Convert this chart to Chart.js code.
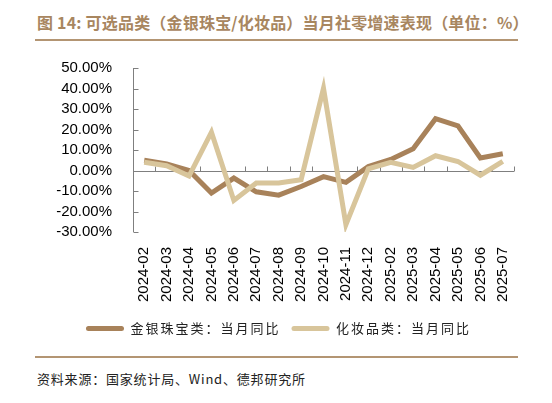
<!DOCTYPE html>
<html>
<head>
<meta charset="utf-8">
<script src="https://cdn.jsdelivr.net/npm/chart.js@4"></script>
<style>
  html, body { margin: 0; padding: 0; background: #fff; }
  body { width: 552px; height: 403px; position: relative; overflow: hidden; }
  #title { position: absolute; left: 37px; top: 10px; font: bold 16px "Noto Sans CJK SC", sans-serif; color: #A8865F; white-space: nowrap; letter-spacing: 0.2px; }
  .rule { position: absolute; left: 35px; width: 483px; height: 2px; background: #B39573; }
  #source { position: absolute; left: 37px; top: 369px; font: 13px "Noto Sans CJK SC", sans-serif; letter-spacing: 0.8px; color: #222; white-space: nowrap; }
  #wrap { position: absolute; left: 0; top: 0; width: 552px; height: 403px; }
</style>
</head>
<body>
<div id="title">图 14: 可选品类（金银珠宝/化妆品）当月社零增速表现（单位：%）</div>
<div class="rule" style="top:39px"></div>
<div class="rule" style="top:356px"></div>
<div id="source">资料来源：国家统计局、Wind、德邦研究所</div>
<div id="wrap"><canvas id="c" width="552" height="403"></canvas></div>
<script>
const categories = ["2024-02","2024-03","2024-04","2024-05","2024-06","2024-07","2024-08","2024-09","2024-10","2024-11","2024-12","2025-02","2025-03","2025-04","2025-05","2025-06","2025-07"];
const goldSilver = [5.0, 3.2, 0.0, -11.0, -3.7, -10.4, -12.0, -7.8, -3.0, -5.8, 1.9, 5.4, 10.6, 25.3, 21.8, 6.1, 8.2];
const cosmetics = [4.0, 2.3, -2.7, 18.7, -14.6, -6.1, -6.1, -4.5, 40.1, -26.4, 0.8, 4.0, 1.5, 7.2, 4.4, -2.3, 4.5];
const yMin = -30, yMax = 50, yStep = 10;
const goldLabel = "金银珠宝类：当月同比";
const cosmLabel = "化妆品类：当月同比";

const axisPlugin = {
  id: 'axisPlugin',
  beforeInit(chart) {
    const lg = chart.legend;
    if (!lg) return;
    const wrap = fn => function (...a) {
      const c = this.ctx;
      const prev = c.letterSpacing;
      c.letterSpacing = '2px';
      const r = fn.apply(this, a);
      c.letterSpacing = prev || '0px';
      return r;
    };
    lg.fit = wrap(Object.getPrototypeOf(lg).fit);
    lg.draw = wrap(Object.getPrototypeOf(lg).draw);
  },
  beforeDatasetsDraw(chart) {
    const {ctx, chartArea, scales: {x, y}} = chart;
    ctx.save();
    ctx.strokeStyle = '#7f7f7f';
    ctx.lineWidth = 1;
    const lx = Math.round(chartArea.left) + 0.5;
    ctx.beginPath();
    ctx.moveTo(lx, y.getPixelForValue(yMax));
    ctx.lineTo(lx, y.getPixelForValue(yMin));
    y.ticks.forEach(t => {
      const py = Math.round(y.getPixelForValue(t.value)) + 0.5;
      ctx.moveTo(lx, py);
      ctx.lineTo(lx + 5, py);
    });
    const y0 = Math.round(y.getPixelForValue(0)) + 0.5;
    ctx.moveTo(chartArea.left, y0);
    ctx.lineTo(chartArea.right, y0);
    for (let i = 1; i <= categories.length; i++) {
      const px = Math.round(x.getPixelForValue(i - 0.5)) + 0.5;
      ctx.moveTo(px, y0);
      ctx.lineTo(px, y0 - 5);
    }
    ctx.stroke();
    ctx.restore();
  }
};

new Chart(document.getElementById('c'), {
  type: 'line',
  data: {
    labels: categories,
    datasets: [
      { label: cosmLabel, data: cosmetics, borderColor: '#D8C59B', backgroundColor: '#D8C59B', borderWidth: 5, pointRadius: 0, tension: 0, borderJoinStyle: 'miter', borderCapStyle: 'butt' },
      { label: goldLabel, data: goldSilver, borderColor: '#A8825A', backgroundColor: '#A8825A', borderWidth: 5, pointRadius: 0, tension: 0, borderJoinStyle: 'miter', borderCapStyle: 'butt' }
    ]
  },
  options: {
    responsive: false,
    animation: false,
    events: [],
    layout: { padding: { top: 68, right: 38, bottom: 58, left: 43 } },
    plugins: {
      title: { display: false },
      tooltip: { enabled: false },
      legend: {
        display: true,
        position: 'bottom',
        reverse: true,
        labels: {
          boxWidth: 38,
          boxHeight: 5,
          padding: 11,
          color: '#222',
          font: { family: '"Noto Sans CJK SC", sans-serif', size: 13 },
          useBorderRadius: true,
          borderRadius: 2.5,
          generateLabels(chart) {
            const items = Chart.defaults.plugins.legend.labels.generateLabels(chart);
            items.forEach(it => { it.lineWidth = 0; it.strokeStyle = 'rgba(0,0,0,0)'; });
            return items;
          }
        }
      }
    },
    scales: {
      x: {
        type: 'category',
        offset: true,
        grid: { display: false },
        border: { display: false },
        ticks: {
          autoSkip: false,
          minRotation: 90,
          maxRotation: 90,
          padding: 7,
          color: '#000',
          font: { family: '"Liberation Sans", Arial, sans-serif', size: 15 }
        },
        afterFit(scale) { scale.height = 79; }
      },
      y: {
        min: yMin,
        max: yMax,
        grid: { display: false },
        border: { display: false },
        ticks: {
          autoSkip: false,
          stepSize: yStep,
          padding: 13,
          color: '#000',
          font: { family: '"Liberation Sans", Arial, sans-serif', size: 15 },
          callback: v => v.toFixed(2) + '%'
        },
        afterFit(scale) { scale.width = 90; }
      }
    }
  },
  plugins: [axisPlugin]
});
</script>
</body>
</html>
